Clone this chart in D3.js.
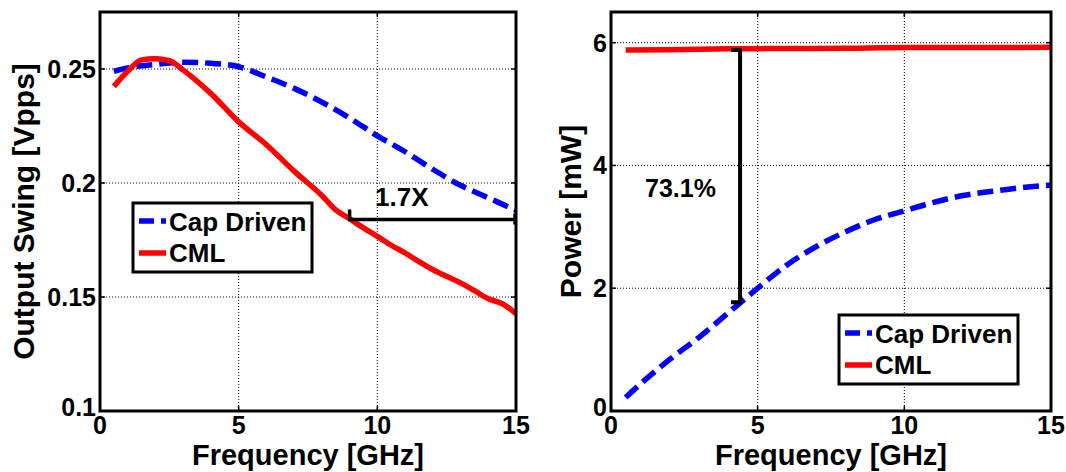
<!DOCTYPE html>
<html>
<head>
<meta charset="utf-8">
<script src="https://cdn.jsdelivr.net/npm/d3@7"></script>
<style>
  body { margin: 0; background: #fff; }
  text { font-family: "Liberation Sans", Arial, sans-serif; font-weight: bold; fill: #000; }
</style>
</head>
<body>
<div id="chart"></div>
<script>
// left panel: output swing vs frequency
const swingFreqCap = [0.5, 1, 2, 3, 4, 5, 6, 7, 8, 9, 10, 11, 12, 13, 14, 15]
const swingCap = [0.249, 0.2505, 0.252, 0.253, 0.2525, 0.251, 0.2465, 0.2415, 0.2355, 0.2285, 0.2207, 0.2137, 0.206, 0.199, 0.1935, 0.188]
const swingFreqCml = [0.5, 1, 1.5, 2, 2.5, 3, 4, 5, 6, 7, 8, 8.5, 9, 9.5, 10, 10.5, 11, 11.5, 12, 13, 13.5, 14, 14.5, 15]
const swingCml = [0.2424, 0.249, 0.254, 0.2545, 0.2537, 0.2495, 0.2392, 0.2268, 0.2168, 0.2052, 0.1945, 0.1882, 0.1843, 0.1803, 0.1766, 0.1727, 0.1693, 0.1655, 0.162, 0.1562, 0.1528, 0.1492, 0.1471, 0.1427]

// right panel: power vs frequency
const powerFreqCap = [0.5, 1, 2, 3, 4, 5, 6, 7, 8, 9, 10, 11, 12, 13, 14, 15]
const powerCap = [0.22, 0.44, 0.84, 1.2, 1.6, 2.0, 2.38, 2.68, 2.92, 3.12, 3.26, 3.4, 3.51, 3.58, 3.64, 3.68]
const powerFreqCml = [0.5, 2, 4, 6, 8, 10, 12, 15]
const powerCml = [5.88, 5.885, 5.9, 5.905, 5.91, 5.92, 5.92, 5.925]

const xTicks = [0, 5, 10, 15]
const swingTicks = [0.1, 0.15, 0.2, 0.25]
const swingTickLabels = ["0.1", "0.15", "0.2", "0.25"]
const powerTicks = [0, 2, 4, 6]
const seriesNames = ["Cap Driven", "CML"]

// annotations (data coords)
const swingArrow = {x0: 9, x1: 15, y: 0.184, label: "1.7X", lx: 9.92, ly: 0.1897}
const powerArrow = {x: 4.4, y0: 5.88, y1: 1.77, label: "73.1%", lx: 1.16, ly: 3.48}

const W = 1066, H = 472
const svg = d3.select("#chart").append("svg")
  .attr("width", W).attr("height", H)

svg.append("rect").attr("width", W).attr("height", H).attr("fill", "#fff")

function zip(xs, ys) {
  return xs.map((d, i) => ({x: d, y: ys[i]}))
}

function panel(opt) {
  let x = d3.scaleLinear().domain([0, 15]).range([opt.left, opt.right])
  let y = d3.scaleLinear().domain(opt.yDomain).range([opt.bottom, opt.top])
  let g = svg.append("g")

  // dotted gridlines
  g.append("g").selectAll("line").data(xTicks.slice(1, -1)).join("line")
    .attr("x1", d => x(d)).attr("x2", d => x(d))
    .attr("y1", opt.top).attr("y2", opt.bottom)
    .attr("stroke", "#000").attr("stroke-width", 1).attr("stroke-dasharray", "1,2")
  g.append("g").selectAll("line").data(opt.yTicks.filter(d => y(d) > opt.top + 2 && y(d) < opt.bottom - 2)).join("line")
    .attr("x1", opt.left).attr("x2", opt.right)
    .attr("y1", d => y(d)).attr("y2", d => y(d))
    .attr("stroke", "#000").attr("stroke-width", 1).attr("stroke-dasharray", "1,2")

  // inward ticks on all four sides
  let tk = 5
  xTicks.forEach(t => {
    g.append("line").attr("x1", x(t)).attr("x2", x(t)).attr("y1", opt.bottom).attr("y2", opt.bottom - tk)
      .attr("stroke", "#000").attr("stroke-width", 1.5)
    g.append("line").attr("x1", x(t)).attr("x2", x(t)).attr("y1", opt.top).attr("y2", opt.top + tk)
      .attr("stroke", "#000").attr("stroke-width", 1.5)
  })
  opt.yTicks.forEach(t => {
    g.append("line").attr("x1", opt.left).attr("x2", opt.left + tk).attr("y1", y(t)).attr("y2", y(t))
      .attr("stroke", "#000").attr("stroke-width", 1.5)
    g.append("line").attr("x1", opt.right).attr("x2", opt.right - tk).attr("y1", y(t)).attr("y2", y(t))
      .attr("stroke", "#000").attr("stroke-width", 1.5)
  })

  // tick labels
  g.append("g").selectAll("text").data(xTicks).join("text")
    .attr("x", d => x(d)).attr("y", opt.bottom + 23)
    .attr("text-anchor", "middle").style("font-size", "25px")
    .text(d => d)
  g.append("g").selectAll("text").data(opt.yTicks).join("text")
    .attr("x", opt.left - 4).attr("y", d => y(d)).attr("dy", d => d === opt.yDomain[0] ? "0.2em" : "0.36em")
    .attr("text-anchor", "end").style("font-size", "25px")
    .text((d, i) => opt.yLabels[i])

  // axis titles
  g.append("text")
    .attr("x", (opt.left + opt.right) / 2).attr("y", 465)
    .attr("text-anchor", "middle").style("font-size", "29px")
    .text("Frequency [GHz]")
  g.append("text")
    .attr("transform", "translate(" + opt.titleX + "," + ((opt.top + opt.bottom) / 2) + ") rotate(-90)")
    .attr("text-anchor", "middle").style("font-size", "30px")
    .text(opt.yTitle)

  // data lines
  let line = d3.line().x(d => x(d.x)).y(d => y(d.y)).curve(d3.curveMonotoneX)
  g.append("path").attr("d", line(opt.cap))
    .attr("fill", "none").attr("stroke", "#0000ff").attr("stroke-width", 5.5)
    .attr("stroke-dasharray", "16,7")
  g.append("path").attr("d", line(opt.cml))
    .attr("fill", "none").attr("stroke", "#ff0000").attr("stroke-width", 5.5)

  // box
  g.append("rect")
    .attr("x", opt.left).attr("y", opt.top)
    .attr("width", opt.right - opt.left).attr("height", opt.bottom - opt.top)
    .attr("fill", "none").attr("stroke", "#000").attr("stroke-width", 3)

  // legend
  let lg = g.append("g").attr("transform", "translate(" + opt.legend[0] + "," + opt.legend[1] + ")")
  lg.append("rect").attr("width", 179).attr("height", 69)
    .attr("fill", "#fff").attr("stroke", "#000").attr("stroke-width", 3)
  lg.append("line").attr("x1", 6).attr("x2", 33).attr("y1", 18).attr("y2", 18)
    .attr("stroke", "#0000ff").attr("stroke-width", 5.5).attr("stroke-dasharray", "15,7")
  lg.append("line").attr("x1", 6).attr("x2", 33).attr("y1", 50).attr("y2", 50)
    .attr("stroke", "#ff0000").attr("stroke-width", 5.5)
  lg.append("text").attr("x", 36).attr("y", 28).style("font-size", "26px").text(seriesNames[0])
  lg.append("text").attr("x", 36).attr("y", 59).style("font-size", "26px").text(seriesNames[1])

  return {x: x, y: y, g: g}
}

let left = panel({
  left: 100, right: 516, top: 12, bottom: 411,
  yDomain: [0.1, 0.275], yTicks: swingTicks, yLabels: swingTickLabels,
  yTitle: "Output Swing [Vpps]", titleX: 34,
  cap: zip(swingFreqCap, swingCap), cml: zip(swingFreqCml, swingCml),
  legend: [133, 203]
})

let right = panel({
  left: 611, right: 1051, top: 12, bottom: 411,
  yDomain: [0, 6.5], yTicks: powerTicks, yLabels: powerTicks.map(String),
  yTitle: "Power [mW]", titleX: 581,
  cap: zip(powerFreqCap, powerCap), cml: zip(powerFreqCml, powerCml),
  legend: [839, 315]
})

// 1.7X horizontal bracket
let lx = left.x, ly = left.y
left.g.append("path")
  .attr("d", "M" + lx(swingArrow.x0) + "," + (ly(swingArrow.y) - 10) +
             "V" + ly(swingArrow.y) + "H" + lx(swingArrow.x1) +
             "M" + (lx(swingArrow.x1) - 1) + "," + (ly(swingArrow.y) - 6) +
             "V" + (ly(swingArrow.y) + 5))
  .attr("fill", "none").attr("stroke", "#000").attr("stroke-width", 3.5)
left.g.append("text")
  .attr("x", lx(swingArrow.lx)).attr("y", ly(swingArrow.ly))
  .style("font-size", "26px").text(swingArrow.label)

// 73.1% vertical bracket
let rx = right.x, ry = right.y
right.g.append("path")
  .attr("d", "M" + (rx(powerArrow.x) - 9) + "," + ry(powerArrow.y0) +
             "H" + rx(powerArrow.x) + "V" + ry(powerArrow.y1) +
             "H" + (rx(powerArrow.x) - 9))
  .attr("fill", "none").attr("stroke", "#000").attr("stroke-width", 4)
right.g.append("text")
  .attr("x", rx(powerArrow.lx)).attr("y", ry(powerArrow.ly))
  .style("font-size", "25px").text(powerArrow.label)
</script>
</body>
</html>
